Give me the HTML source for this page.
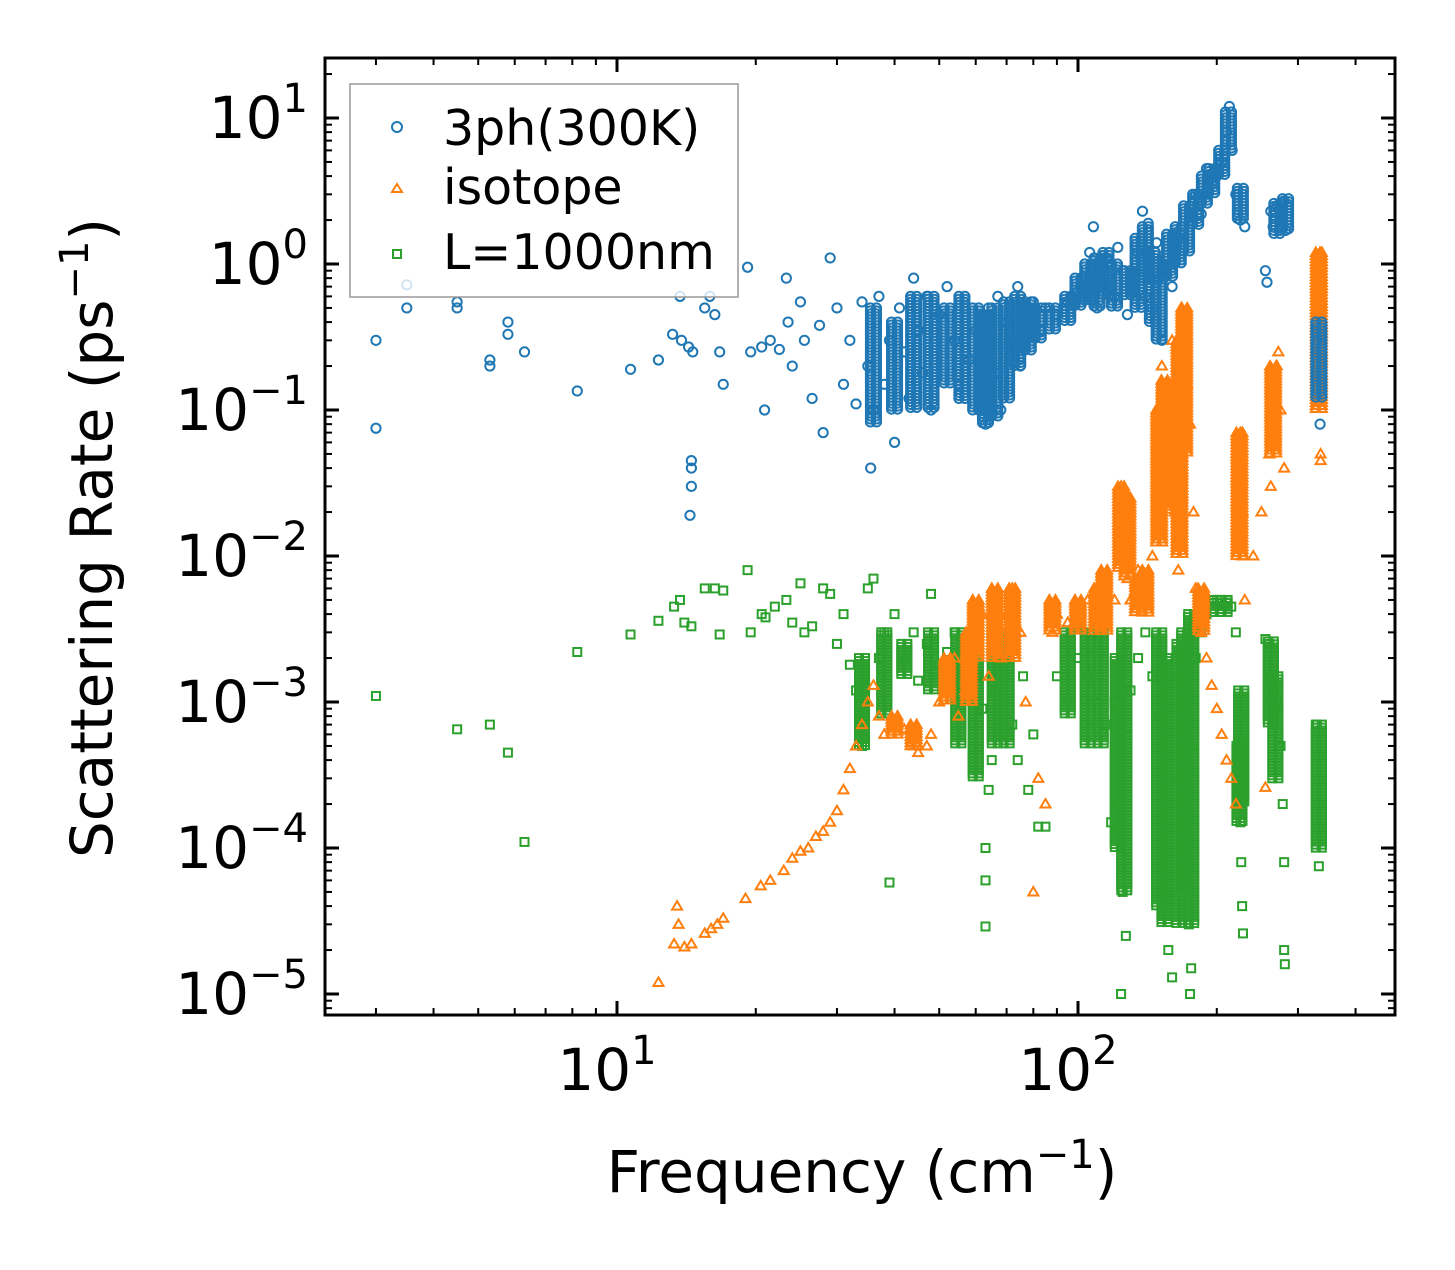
<!DOCTYPE html>
<html><head><meta charset="utf-8"><style>
body{margin:0;background:#fff}
text{font-family:"DejaVu Sans","Liberation Sans",sans-serif;fill:#000}
</style></head><body>
<svg id="chart" width="1455" height="1265" viewBox="0 0 1455 1265" xmlns="http://www.w3.org/2000/svg">
<rect width="1455" height="1265" fill="#fff"/>
<g id="marks"></g>
<g id="axes"></g>
<rect x="325" y="58" width="1070" height="957" fill="none" stroke="#000" stroke-width="3"/>
<text transform="translate(112,538) rotate(-90)" text-anchor="middle" font-size="58">Scattering Rate (ps<tspan dy="-24" font-size="40">−1</tspan><tspan dy="24">)</tspan></text>
<text x="862" y="1192" text-anchor="middle" font-size="58">Frequency (cm<tspan dy="-24" font-size="40">−1</tspan><tspan dy="24">)</tspan></text>
<g>
<rect x="350" y="84" width="388" height="213" fill="#fff" fill-opacity="0.8" stroke="#999" stroke-width="1.5"/>
<circle cx="397" cy="127" r="5" fill="none" stroke="#1f77b4" stroke-width="2"/>
<text x="443" y="145" font-size="49">3ph(300K)</text>
<path d="M397,184 L402,192 L392,192 Z" fill="none" stroke="#ff7f0e" stroke-width="2"/>
<text x="443" y="204" font-size="49">isotope</text>
<rect x="393" y="250" width="8" height="8" fill="none" stroke="#2ca02c" stroke-width="2"/>
<text x="443" y="269" font-size="49">L=1000nm</text>
</g>
</svg>
<script>
const blueFreq=[3.0,3.0,3.5,3.5,4.5,4.5,5.3,5.3,5.8,5.8,6.3,8.2,10.7,12.3,13.2,13.7,13.8,14.3,14.5,14.5,14.5,14.4,14.6,15.5,15.9,16.3,16.7,17.0,19.2,19.5,20.6,20.9,21.5,22.5,23.3,23.5,24,25,25.5,26.5,27.5,28,29,30,31,32,33,34,35,35.5,36,37,38,39,40,41,42,43,44,45,46,47,48,50,52,54,55,57,58,60,62,63,64,65,66,67,68,70,72,74,75,78,80,83,85,90,95,100,103,106,108,110,112,115,118,120,122,125,128,130,135,138,140,142,145,148,150,152,155,160,165,170,175,180,185,190,195,200,205,210,213,216,220,222,225,230,255,257,262,265,270,275,280,282,330,335];
const blueVal=[0.3,0.075,0.5,0.72,0.55,0.5,0.2,0.22,0.4,0.33,0.25,0.135,0.19,0.22,0.33,0.6,0.3,0.27,0.045,0.04,0.03,0.019,0.25,0.5,0.6,0.45,0.25,0.15,0.95,0.25,0.27,0.1,0.3,0.26,0.8,0.4,0.2,0.55,0.3,0.12,0.38,0.07,1.1,0.5,0.15,0.3,0.11,0.55,0.2,0.04,0.1,0.6,0.15,0.3,0.06,0.5,0.25,0.12,0.8,0.35,0.18,0.6,0.1,0.45,0.7,0.3,0.15,0.5,0.22,0.35,0.12,0.08,0.5,0.25,0.18,0.6,0.1,0.4,0.3,0.7,0.2,0.45,0.55,0.35,0.5,0.45,0.55,0.65,0.8,1.2,1.8,0.5,0.9,1.1,0.7,0.6,1.3,0.9,0.45,0.8,1.2,2.3,0.6,1.9,0.5,1.4,0.8,0.3,1.1,0.7,1.5,1.8,2.5,3,2.2,4.5,3.5,4,5,8,12,6,3,2.5,2,1.8,0.9,0.75,2.3,1.8,2.5,2,2.7,1.7,0.3,0.08];
const blueBandFreq=[36,40,44,48,52,56,60,63,66,70,74,78,82,88,95,100,105,110,115,120,128,135,140,145,150,158,165,172,180,188,195,205,212,225,270,282,333];
const blueBandLo=[0.08,0.1,0.1,0.1,0.15,0.12,0.1,0.08,0.09,0.12,0.2,0.25,0.3,0.35,0.4,0.5,0.55,0.5,0.6,0.5,0.6,0.5,0.8,0.4,0.3,0.8,1,1.2,1.8,2.5,3,4,6,2,1.6,1.7,0.12];
const blueBandHi=[0.5,0.4,0.6,0.6,0.5,0.6,0.5,0.45,0.5,0.55,0.6,0.55,0.5,0.5,0.6,0.8,1,1.1,1.2,1,0.9,1.5,1.8,1.2,1,1.6,1.8,2.5,3,4,4.5,6,11,3.3,2.6,2.8,0.4];

const isoFreq=[12.3,13.3,13.5,13.6,14,14.5,15.5,16,16.5,17,19,20.5,21.5,23,24,25,26,27,28,29,30,31,32,33,34,35,36,37,38,40,42,44,45,47,48,50,52,54,55,57,58,60,62,64,66,68,70,72,75,77,80,82,85,88,90,95,100,105,110,115,120,124,125,126,127,128,130,135,140,145,150,152,153,155,157,160,162,165,168,170,172,175,178,180,185,190,195,200,205,210,215,220,225,226,227,228,230,240,250,255,260,262,265,270,272,275,280,335,336,336];
const isoVal=[1.2e-5,2.2e-5,4e-5,3e-5,2.1e-5,2.2e-5,2.6e-5,2.8e-5,3e-5,3.3e-5,4.5e-5,5.5e-5,6e-5,7e-5,8.5e-5,9.5e-5,1e-4,1.2e-4,1.3e-4,1.5e-4,1.8e-4,2.5e-4,3.5e-4,5e-4,7e-4,1e-3,1.3e-3,8e-4,6e-4,7e-4,6.5e-4,5e-4,4.5e-4,5e-4,6e-4,1e-3,1.5e-3,2e-3,8e-4,1.2e-3,2.5e-3,3e-3,4e-3,1.5e-3,5e-3,2e-3,4e-3,6e-3,3e-3,1e-3,5e-5,3e-4,2e-4,3e-3,4e-3,3.5e-3,4e-3,5e-3,4.5e-3,4e-3,5e-3,0.03,0.02,0.015,0.01,0.007,0.005,0.008,0.006,0.01,0.1,0.2,0.05,0.03,0.15,0.3,0.02,0.008,0.5,0.3,0.15,0.08,0.02,0.006,0.003,0.002,0.0013,0.0009,0.0006,0.0004,0.0003,0.0002,0.07,0.04,0.02,0.01,0.005,0.01,0.02,0.00026,0.05,0.03,0.1,0.2,0.25,0.1,0.04,1.2,0.05,0.045];
const isoBandFreq=[124,128,150,154,166,170,224,265,333,60,66,72,88,100,110,114,135,140,185,58,52,40,44];
const isoBandLo=[0.008,0.007,0.012,0.02,0.01,0.05,0.01,0.05,0.1,0.002,0.002,0.002,0.003,0.003,0.003,0.003,0.004,0.004,0.003,0.001,0.001,0.0006,0.0005];
const isoBandHi=[0.03,0.025,0.1,0.16,0.3,0.5,0.07,0.2,1.2,0.005,0.006,0.006,0.005,0.005,0.006,0.008,0.007,0.008,0.006,0.003,0.002,0.0008,0.0007];

const bndFreq=[3.0,4.5,5.3,5.8,6.3,8.2,10.7,12.3,13.3,13.7,14,14.5,15.5,16.3,16.7,17,19.2,19.5,20.6,21,22,23.3,24,25,25.5,26.5,28,29,30,31,32,33,34,35,36,37,38,39,40,42,44,45,47,48,50,52,54,55,57,60,62,63,63,63,64,65,66,68,70,72,74,76,78,80,82,85,90,95,100,105,110,115,118,120,122,124,125,127,128,130,135,140,145,150,152,153,155,157,160,162,165,168,170,172,174,175,176,178,180,185,190,195,200,205,210,215,220,222,224,225,226,227,228,255,260,262,270,275,278,280,280,281,330,333];
const bndVal=[1.1e-3,6.5e-4,7e-4,4.5e-4,1.1e-4,2.2e-3,2.9e-3,3.6e-3,4.5e-3,5e-3,3.5e-3,3.3e-3,6e-3,6e-3,2.9e-3,5.8e-3,8e-3,3e-3,4e-3,3.8e-3,4.5e-3,5e-3,3.5e-3,6.5e-3,3e-3,3.3e-3,6e-3,5.5e-3,2.5e-3,4e-3,1.8e-3,1.2e-3,5e-4,6e-3,7e-3,2e-3,3e-3,5.8e-5,4e-3,2e-3,3e-3,1.4e-3,2.5e-3,5.5e-3,1.8e-3,2.2e-3,3e-3,1.2e-3,2.5e-3,1.5e-3,9e-4,2.9e-5,6e-5,1e-4,2.5e-4,4e-4,1.2e-3,3e-3,2e-3,7e-4,4e-4,1.5e-3,2.5e-4,6e-4,1.4e-4,1.4e-4,1.5e-3,1e-3,2e-3,1.5e-3,1e-3,7e-4,1.5e-4,1e-3,2e-4,1e-5,5e-5,2.5e-5,6e-4,1.2e-3,2e-3,3e-3,1.5e-3,8e-4,3e-4,1e-4,5e-5,2e-5,1.3e-5,3e-4,1.5e-3,8e-4,4e-4,1e-4,3e-5,1e-5,1.5e-5,5e-4,2e-3,3e-3,4e-3,5e-3,5e-3,5e-3,4.8e-3,4.5e-3,3e-3,5e-4,3e-4,1.5e-4,8e-5,4e-5,2.6e-5,2.7e-3,2.5e-3,1.5e-3,1e-3,5e-4,2e-4,8e-5,2e-5,1.6e-5,7e-4,7.5e-5];
const bndBandFreq=[34,38,55,60,66,70,95,105,112,122,126,150,154,166,170,176,224,226,262,268,333,42,48,200,208];
const bndBandLo=[0.0005,0.0008,0.0005,0.0003,0.0005,0.0005,0.0008,0.0005,0.0005,0.0001,0.00005,0.00004,0.00003,0.00003,0.00005,0.00003,0.00015,0.0002,0.0007,0.0003,0.0001,0.0015,0.0012,0.004,0.004];
const bndBandHi=[0.002,0.003,0.003,0.003,0.003,0.003,0.003,0.003,0.003,0.002,0.003,0.003,0.002,0.0025,0.003,0.004,0.0005,0.0012,0.0026,0.0015,0.0007,0.0025,0.003,0.005,0.005];

const xTickVals=[10,100];
const xTickExp=["1","2"];
const yTickVals=[10,1,0.1,0.01,0.001,0.0001,0.00001];
const yTickExp=["1","0","−1","−2","−3","−4","−5"];

const X0=617,XD=461,Y0=264,YD=146,L=325,R=1395,T=58,B=1015;
function xs(f){return X0+XD*(Math.log10(f)-1);}
function ys(v){return Y0-YD*Math.log10(v);}
const NS="http://www.w3.org/2000/svg";
const marks=document.getElementById('marks');
const axes=document.getElementById('axes');
function mk(tag,attrs,parent){const e=document.createElementNS(NS,tag);for(const k in attrs)e.setAttribute(k,attrs[k]);parent.appendChild(e);return e;}
function marker(kind,x,y,g){
  let e;
  if(kind==='c'){e=mk('circle',{cx:x,cy:y,r:4.6,fill:'none',stroke:'#1f77b4','stroke-width':2},g);}
  else if(kind==='t'){e=mk('path',{d:`M${x},${y-5} L${x+5},${y+3.5} L${x-5},${y+3.5} Z`,fill:'none',stroke:'#ff7f0e','stroke-width':2},g);}
  else {e=mk('rect',{x:x-4,y:y-4,width:8,height:8,fill:'none',stroke:'#2ca02c','stroke-width':2},g);}
  return e;
}
function series(name,kind,fr,vals,bf,blo,bhi){
  const g=mk('g',{},marks);
  
  
  for(let i=0;i<fr.length;i++){
    const e=marker(kind,xs(fr[i]),ys(vals[i]),g);
    
    
  }
  for(let i=0;i<bf.length;i++){
    const x=xs(bf[i]),y1=ys(bhi[i]),y2=ys(blo[i]);
    for(let y=y1;y<=y2;y+=3){
      for(let dx=-3;dx<=3;dx+=6){
        const e=marker(kind,x+dx,y,g);
        
        
      }
    }
  }
}
series('series-boundary','s',bndFreq,bndVal,bndBandFreq,bndBandLo,bndBandHi);
series('series-isotope','t',isoFreq,isoVal,isoBandFreq,isoBandLo,isoBandHi);
series('series-3ph','c',blueFreq,blueVal,blueBandFreq,blueBandLo,blueBandHi);

for(let d=0;d<=2;d++){
  for(let m=1;m<=9;m++){
    const f=m*Math.pow(10,d);const x=xs(f);
    if(x<L||x>R)continue;
    const len=m===1?14:7,w=m===1?3:2;
    const a=mk('line',{x1:x,x2:x,y1:B,y2:B-len,stroke:'#000','stroke-width':w},axes);
    
    
    const b=mk('line',{x1:x,x2:x,y1:T,y2:T+len,stroke:'#000','stroke-width':w},axes);
    
    
  }
}
xTickVals.forEach((v,i)=>{
  const t=mk('text',{x:xs(v)-10,y:1090,'text-anchor':'middle','font-size':58},axes);
  
  
  t.textContent='10';
  const s=mk('tspan',{dy:-26,'font-size':40},t);s.textContent=xTickExp[i];
});
for(let d=-6;d<=1;d++){
  for(let m=1;m<=9;m++){
    const v=m*Math.pow(10,d);const y=ys(v);
    if(y<T||y>B)continue;
    const len=m===1?14:7,w=m===1?3:2;
    const a=mk('line',{x1:L,x2:L+len,y1:y,y2:y,stroke:'#000','stroke-width':w},axes);
    
    
    const b=mk('line',{x1:R,x2:R-len,y1:y,y2:y,stroke:'#000','stroke-width':w},axes);
    
    
  }
}
yTickVals.forEach((v,i)=>{
  const t=mk('text',{x:308,y:ys(v)+20,'text-anchor':'end','font-size':58},axes);
  
  
  t.textContent='10';
  const s=mk('tspan',{dy:-26,'font-size':40},t);s.textContent=yTickExp[i];
});
</script>
</body></html>
